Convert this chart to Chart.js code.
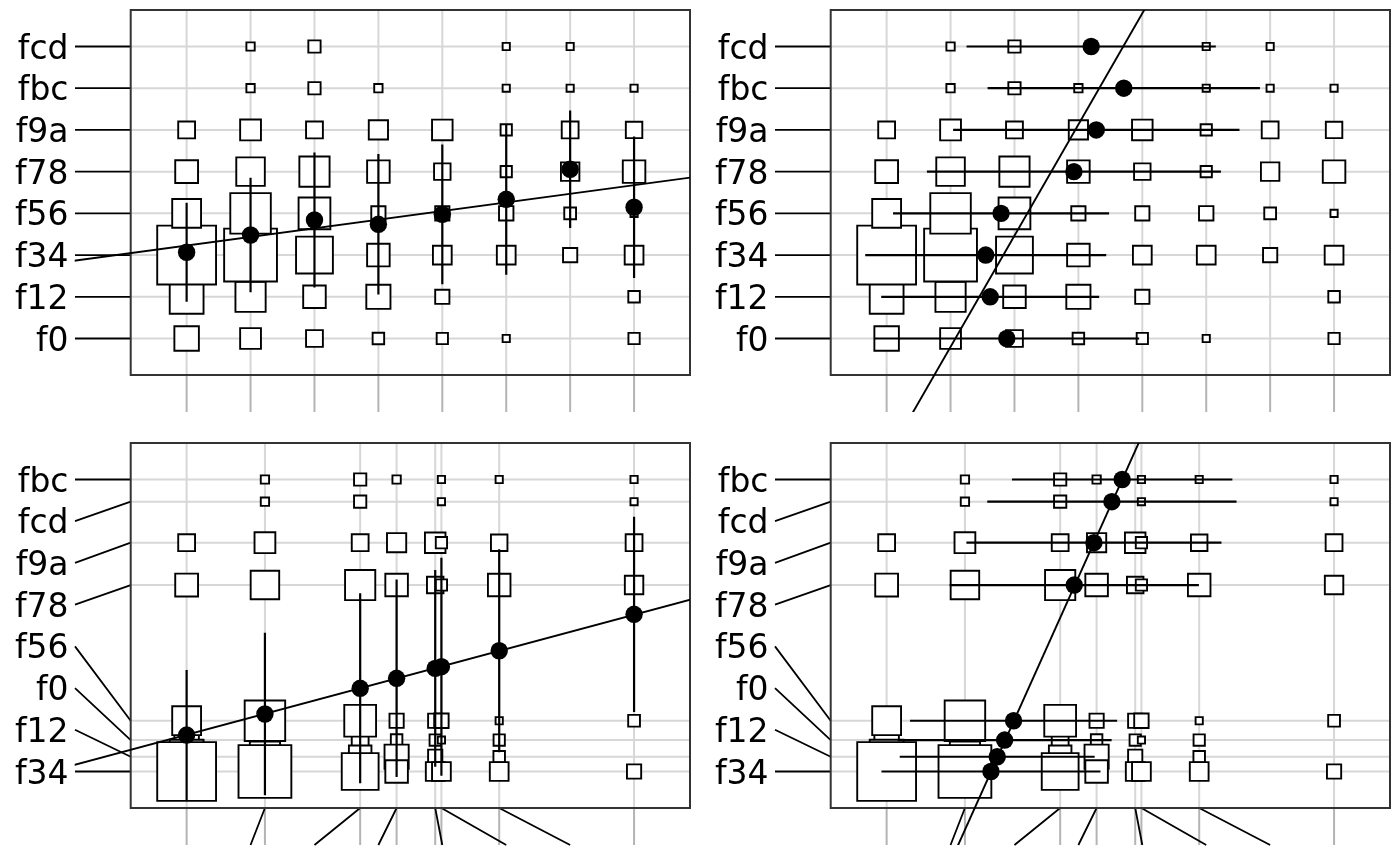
<!DOCTYPE html>
<html>
<head>
<meta charset="utf-8">
<script src="https://cdn.jsdelivr.net/npm/chart.js@4.4.1/dist/chart.umd.min.js"></script>
<style>
html,body{margin:0;padding:0;background:#fff;}
#wrap{position:relative;width:1400px;height:866px;overflow:hidden;}
#wrap canvas{position:absolute;}
</style>
</head>
<body>
<div id="wrap">
<canvas id="pTL" width="700" height="433" style="left:0;top:0"></canvas>
<canvas id="pTR" width="700" height="433" style="left:700px;top:0"></canvas>
<canvas id="pBL" width="700" height="433" style="left:0;top:433px"></canvas>
<canvas id="pBR" width="700" height="433" style="left:700px;top:433px"></canvas>
</div>
<script>
// ---------- data ----------
const rowLabels = ['f0', 'f12', 'f34', 'f56', 'f78', 'f9a', 'fbc', 'fcd'];
const colIds = ['c1', 'c2', 'c3', 'c4', 'c5', 'c6', 'c7', 'c8'];

// cell frequencies (rows as rowLabels, columns c1..c8)
const counts = [
  [10.4,  7.5,  4.9,  2.3, 2.2, 0.9, 0,   2.2],  // f0
  [19.8, 15.8,  8.8, 10.1, 3.5, 0,   0,   2.3],  // f12
  [59.9, 48.3, 23.5,  8.8, 6.1, 6.1, 3.5, 6.1],  // f34
  [14.4, 28.4, 17.5,  3.5, 3.5, 3.6, 2.4, 0.9],  // f56
  [ 9.0, 14.1, 15.8,  8.8, 4.7, 2.2, 5.9, 8.8],  // f78
  [ 4.9,  7.5,  4.9,  6.4, 7.3, 2.2, 4.9, 4.7],  // f9a
  [ 0,    1.2,  2.6,  1.2, 0,   0.9, 0.9, 0.9],  // fbc
  [ 0,    1.2,  2.6,  0,   0,   0.9, 0.9, 0]     // fcd
];

// scores: equally spaced (top) and rescaled (bottom)
const topRowScores = [1, 2, 3, 4, 5, 6, 7, 8];
const topColScores = [1, 2, 3, 4, 5, 6, 7, 8];
const bottomRowScores = [1.754, 1.354, 1.0, 2.217, 5.47, 6.485, 8.0, 7.468];
const bottomColScores = [1.0, 2.225, 3.715, 4.285, 4.889, 4.986, 8.0, 5.89];

// top-left: column means of row score, +/- spread
const tlMeans = [3.067, 3.481, 3.841, 3.738, 3.978, 4.337, 5.057, 4.146];
const tlSpread = [1.187, 1.375, 1.618, 1.683, 1.675, 1.806, 1.411, 1.697];
// top-right: row means of column score, +/- spread
const trMeans = [2.88, 2.62, 2.55, 2.79, 3.93, 4.28, 4.71, 4.20];
const trSpread = [2.07, 1.705, 1.885, 1.69, 2.30, 2.24, 2.13, 1.95];
// bottom-left: column means (rescaled)
const blMeans = [1.874, 2.378, 2.994, 3.234, 3.473, 3.512, 4.768, 3.895];
const blSpread = [1.558, 1.947, 2.278, 2.366, 2.357, 2.611, 2.34, 2.431];
// bottom-right: row means (rescaled)
const brMeans = [2.846, 2.73, 2.632, 2.986, 3.935, 4.243, 4.685, 4.524];
const brSpread = [1.674, 1.525, 1.713, 1.62, 1.95, 1.995, 1.724, 1.95];

// fitted lines [intercept, slope]
const fitTL = [3.020, 0.207];   // y = a + b x
const fitTR = [1.700, 0.3752];  // x = a + b y
const fitBL = [1.468, 0.4111];  // y = a + b x
const fitBR = [2.342, 0.2931];  // x = a + b y

// ---------- styling constants ----------
const SQ_PX = 7.6;          // square side per sqrt(freq)
const AX_MIN = 0.125, AX_MAX = 8.875;
const TICK_DOWN = 37;
const LABEL_TICK_X = 75;

function ranks(arr) {
  const idx = arr.map((v, i) => i).sort((a, b) => arr[a] - arr[b]);
  const r = new Array(arr.length);
  idx.forEach((k, pos) => { r[k] = pos + 1; });
  return r;
}

const decor = {
  id: 'decor',
  beforeDatasetsDraw(chart, args, opts) {
    const ctx = chart.ctx, a = chart.chartArea;
    const x = chart.scales.x, y = chart.scales.y;
    const rs = opts.rowScores, cs = opts.colScores;
    const rr = ranks(rs), cr = ranks(cs);
    ctx.save();
    // grid
    ctx.strokeStyle = '#d7d7d7';
    ctx.lineWidth = 2;
    ctx.beginPath();
    rs.forEach(v => { const p = y.getPixelForValue(v); ctx.moveTo(a.left, p); ctx.lineTo(a.right, p); });
    cs.forEach(v => { const p = x.getPixelForValue(v); ctx.moveTo(p, a.top); ctx.lineTo(p, a.bottom); });
    ctx.stroke();
    // grey extensions below the panel
    ctx.strokeStyle = '#b4b4b4';
    ctx.beginPath();
    cs.forEach(v => { const p = x.getPixelForValue(v); ctx.moveTo(p, a.bottom); ctx.lineTo(p, a.bottom + TICK_DOWN); });
    ctx.stroke();
    // connectors / ticks
    ctx.strokeStyle = '#000';
    ctx.lineWidth = 1.8;
    ctx.beginPath();
    cs.forEach((v, i) => {
      const p0 = x.getPixelForValue(v), p1 = x.getPixelForValue(cr[i]);
      if (Math.abs(p0 - p1) > 1) { ctx.moveTo(p0, a.bottom); ctx.lineTo(p1, a.bottom + TICK_DOWN); }
    });
    rs.forEach((v, i) => {
      ctx.moveTo(a.left, y.getPixelForValue(v));
      ctx.lineTo(LABEL_TICK_X, y.getPixelForValue(rr[i]));
    });
    ctx.stroke();
    // frame
    ctx.strokeStyle = '#333';
    ctx.lineWidth = 2;
    ctx.strokeRect(a.left, a.top, a.right - a.left, a.bottom - a.top);
    // labels
    ctx.fillStyle = '#000';
    ctx.font = '33px "DejaVu Sans"';
    ctx.textAlign = 'right';
    ctx.textBaseline = 'alphabetic';
    rowLabels.forEach((l, i) => ctx.fillText(l, 68.5, y.getPixelForValue(rr[i]) + 12));
    ctx.restore();
  }
};

function buildPanel(id, rowScores, colScores, means, spread, dir, fit) {
  const datasets = [];
  // squares
  const sq = [];
  rowLabels.forEach((r, i) => {
    colIds.forEach((c, j) => {
      const n = counts[i][j];
      if (n > 0) sq.push({ x: colScores[j], y: rowScores[i], n: n });
    });
  });
  datasets.push({
    data: sq, order: 4, showLine: false,
    pointStyle: 'rect',
    pointRadius: ctx => (SQ_PX * Math.sqrt(ctx.raw.n)) / Math.SQRT2,
    pointBackgroundColor: '#fff', pointBorderColor: '#000', pointBorderWidth: 1.9
  });
  // fitted line
  const ln = dir === 'v'
    ? [{ x: -3, y: fit[0] + fit[1] * -3 }, { x: 11, y: fit[0] + fit[1] * 11 }]
    : [{ x: fit[0] + fit[1] * -3, y: -3 }, { x: fit[0] + fit[1] * 11, y: 11 }];
  datasets.push({
    data: ln, order: 3, showLine: true, pointRadius: 0,
    borderColor: '#000', borderWidth: 1.9,
    clip: { left: 56, top: 0, right: 0, bottom: TICK_DOWN }
  });
  // spread bars
  const dots = [];
  if (dir === 'v') {
    colScores.forEach((c, j) => {
      datasets.push({
        data: [{ x: c, y: means[j] - spread[j] }, { x: c, y: means[j] + spread[j] }],
        order: 2, showLine: true, pointRadius: 0, borderColor: '#000', borderWidth: 2.2
      });
      dots.push({ x: c, y: means[j] });
    });
  } else {
    rowScores.forEach((r, i) => {
      datasets.push({
        data: [{ x: means[i] - spread[i], y: r }, { x: means[i] + spread[i], y: r }],
        order: 2, showLine: true, pointRadius: 0, borderColor: '#000', borderWidth: 2.2
      });
      dots.push({ x: means[i], y: r });
    });
  }
  datasets.push({
    data: dots, order: 1, showLine: false,
    pointRadius: 8.7, pointBackgroundColor: '#000', pointBorderWidth: 0
  });

  new Chart(document.getElementById(id), {
    type: 'scatter',
    data: { datasets: datasets },
    options: {
      responsive: false,
      maintainAspectRatio: false,
      devicePixelRatio: 1,
      animation: false,
      events: [],
      layout: { autoPadding: false, padding: { left: 130.7, top: 10, right: 10, bottom: 58 } },
      scales: {
        x: { type: 'linear', min: AX_MIN, max: AX_MAX, display: false },
        y: { type: 'linear', min: AX_MIN, max: AX_MAX, display: false }
      },
      plugins: {
        legend: { display: false },
        tooltip: { enabled: false },
        decor: { rowScores: rowScores, colScores: colScores }
      }
    },
    plugins: [decor]
  });
}

buildPanel('pTL', topRowScores, topColScores, tlMeans, tlSpread, 'v', fitTL);
buildPanel('pTR', topRowScores, topColScores, trMeans, trSpread, 'h', fitTR);
buildPanel('pBL', bottomRowScores, bottomColScores, blMeans, blSpread, 'v', fitBL);
buildPanel('pBR', bottomRowScores, bottomColScores, brMeans, brSpread, 'h', fitBR);
</script>
</body>
</html>
